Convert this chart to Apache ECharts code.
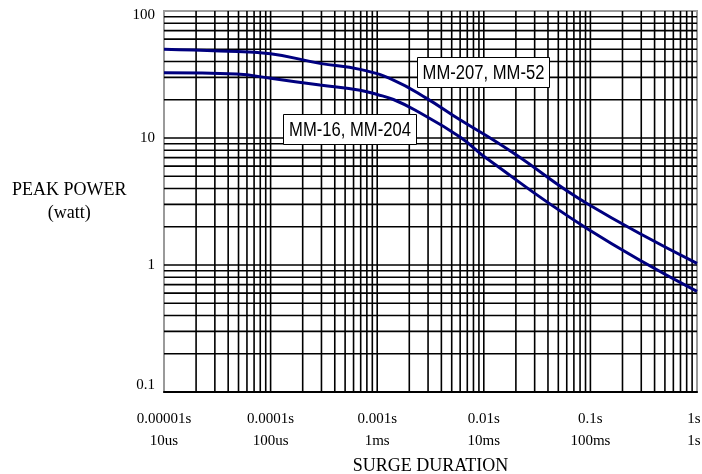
<!DOCTYPE html>
<html>
<head>
<meta charset="utf-8">
<script src="https://cdn.jsdelivr.net/npm/echarts@6/dist/echarts.min.js"></script>
<style>html,body{margin:0;padding:0;background:#fff;}#c{width:702px;height:474px;}</style>
</head>
<body>
<div id="c"></div>
<script>
// ---- data ----
const xTickLabels = ['0.00001s\n10us', '0.0001s\n100us', '0.001s\n1ms', '0.01s\n10ms', '0.1s\n100ms', '1s\n1s'];
const yTickLabels = ['0.1', '1', '10', '100'];

// MM-207, MM-52 (upper curve)
const upperX = [1e-5, 3.35e-5, 1e-4, 2.9e-4, 6.9e-4, 1.42e-3, 2.91e-3, 5.98e-3, 1.23e-2, 2.04e-2, 9.2e-2, 1];
const upperY = [50, 48.4, 46, 38.7, 34.7, 28.6, 20.5, 13.9, 9.65, 7.3, 3.06, 1.03];

// MM-16, MM-204 (lower curve)
const lowerX = [1e-5, 4.8e-5, 1e-4, 2.9e-4, 6.9e-4, 1e-3, 1.42e-3, 2.26e-3, 5.98e-3, 1.06e-2, 9.2e-2, 1];
const lowerY = [32.7, 31.9, 29.5, 26.1, 23.8, 22, 20.1, 16.6, 10.2, 6.92, 1.95, 0.62];

const upperLabel = 'MM-207, MM-52';
const lowerLabel = 'MM-16, MM-204';

// log grid: multipliers within each decade
const gridMultipliers = [1, 2, 3, 4, 5, 6, 7, 8, 9];
const xDecades = [-5, -4, -3, -2, -1];
const yDecades = [-1, 0, 1];
const xRange = [1e-5, 1];
const yRange = [0.1, 100];

// ---- build ----
const zip = (xs, ys) => xs.map((x, i) => [x, ys[i]]);
const gridSeries = [];
const gridStyle = { color: '#000', width: 1.6 };
xDecades.forEach(d => gridMultipliers.forEach(m => {
  if (d === -5 && m === 1) return; // left border
  const v = m * Math.pow(10, d);
  gridSeries.push({ type: 'line', data: [[v, yRange[0]], [v, yRange[1]]], symbol: 'none', z: 1, silent: true, lineStyle: gridStyle, tooltip: { show: false } });
}));
yDecades.forEach(d => gridMultipliers.forEach(m => {
  if (d === -1 && m === 1) return; // bottom axis
  const v = m * Math.pow(10, d);
  gridSeries.push({ type: 'line', data: [[xRange[0], v], [xRange[1], v]], symbol: 'none', z: 1, silent: true, lineStyle: gridStyle, tooltip: { show: false } });
}));

const serif = 'Liberation Serif, Times New Roman, serif';
const sans = 'Liberation Sans, Arial, sans-serif';
const curveColor = '#00007f';

const chart = echarts.init(document.getElementById('c'), null, { renderer: 'canvas' });
chart.setOption({
  animation: false,
  backgroundColor: '#fff',
  grid: { left: 164, right: 5, top: 11, bottom: 82, containLabel: false, outerBoundsMode: 'none', show: true, borderColor: '#9a9a9a', borderWidth: 2, backgroundColor: 'transparent' },
  xAxis: {
    type: 'log', logBase: 10, min: xRange[0], max: xRange[1], splitNumber: 5,
    name: 'SURGE DURATION', nameLocation: 'middle', nameGap: 62,
    nameTextStyle: { fontFamily: serif, fontSize: 18, color: '#000' },
    axisLine: { show: true, lineStyle: { color: '#000', width: 2 } },
    axisTick: { show: false },
    splitLine: { show: false },
    axisLabel: {
      margin: 16, fontFamily: serif, fontSize: 15, color: '#000', lineHeight: 22,
      formatter: v => {
        const i = Math.round(Math.log10(v)) + 5;
        const t = xTickLabels[i] || '';
        if (i === xTickLabels.length - 1) return t.split('\n').map(s => '{r|' + s + '}').join('\n');
        return t;
      },
      rich: {
        r: { fontFamily: serif, fontSize: 15, color: '#000', lineHeight: 22, padding: [0, 6, 0, 0] }
      }
    }
  },
  yAxis: {
    type: 'log', logBase: 10, min: yRange[0], max: yRange[1], splitNumber: 3,
    name: 'PEAK POWER\n(watt)', nameLocation: 'middle', nameRotate: 0, nameGap: 94,
    nameTextStyle: { fontFamily: serif, fontSize: 18, color: '#000', align: 'center', verticalAlign: 'middle', lineHeight: 23 },
    axisLine: { show: false },
    axisTick: { show: false },
    splitLine: { show: false },
    axisLabel: {
      margin: 9, fontFamily: serif, fontSize: 15, color: '#000',
      formatter: v => {
        const i = Math.round(Math.log10(v)) + 1;
        const t = yTickLabels[i] || '';
        if (i === 0) return '{lo|' + t + '}';
        if (i === 3) return '{hi|' + t + '}';
        return t;
      },
      rich: {
        lo: { fontFamily: serif, fontSize: 15, color: '#000', padding: [0, 0, 13, 0] },
        hi: { fontFamily: serif, fontSize: 15, color: '#000', padding: [9, 0, 0, 0] }
      }
    }
  },
  series: gridSeries.concat([
    {
      name: upperLabel, type: 'line', data: zip(upperX, upperY), smooth: 0.45, symbol: 'none', z: 5,
      lineStyle: { color: curveColor, width: 3 }
    },
    {
      name: lowerLabel, type: 'line', data: zip(lowerX, lowerY), smooth: 0.45, symbol: 'none', z: 5,
      lineStyle: { color: curveColor, width: 3 }
    }
  ]),
  graphic: [
    {
      type: 'group', left: 417, top: 57, z: 100,
      children: [
        { type: 'rect', z: 100, shape: { x: 0, y: 0, width: 132, height: 30 }, style: { fill: '#fff', stroke: '#000', lineWidth: 1 } },
        { type: 'text', z: 101, x: 66, y: 15.5, scaleX: 0.83, style: { text: upperLabel, font: '20px ' + sans, fill: '#000', align: 'center', verticalAlign: 'middle' } }
      ]
    },
    {
      type: 'group', left: 283, top: 114, z: 100,
      children: [
        { type: 'rect', z: 100, shape: { x: 0, y: 0, width: 133, height: 30 }, style: { fill: '#fff', stroke: '#000', lineWidth: 1 } },
        { type: 'text', z: 101, x: 66.5, y: 15.5, scaleX: 0.83, style: { text: lowerLabel, font: '20px ' + sans, fill: '#000', align: 'center', verticalAlign: 'middle' } }
      ]
    }
  ]
});
</script>
</body>
</html>
